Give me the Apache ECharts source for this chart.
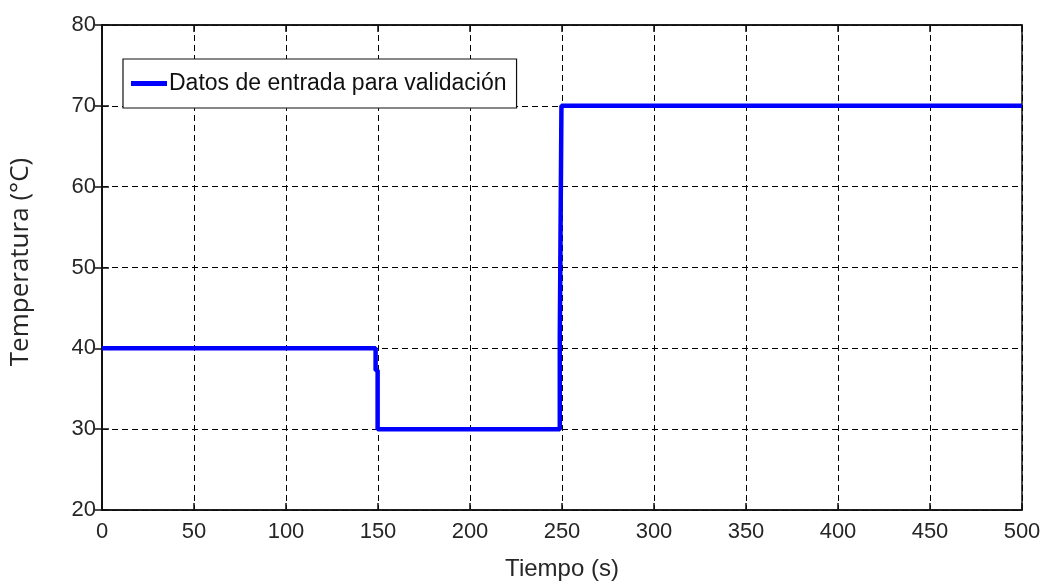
<!DOCTYPE html>
<html>
<head>
<meta charset="utf-8">
<script src="https://cdn.jsdelivr.net/npm/echarts@6/dist/echarts.min.js"></script>
<style>
html,body{margin:0;padding:0;background:#fff;}
#chart{width:1051px;height:586px;}
</style>
</head>
<body>
<div id="chart"></div>
<script>
// Data
var timeValues = [0, 148.7, 148.7, 149.8, 149.8, 248.8, 248.8, 249.7, 249.7, 500];
var tempValues = [40, 40, 37.3, 37.3, 30, 30, 41.5, 41.5, 70, 70];
var seriesName = 'Datos de entrada para validación';
var xTicks = [0, 50, 100, 150, 200, 250, 300, 350, 400, 450, 500];
var yTicks = [20, 30, 40, 50, 60, 70, 80];

var points = timeValues.map(function (t, i) { return [t, tempValues[i]]; });
var FONT = '"Liberation Sans Narrow", "Arial Narrow", "Liberation Sans", sans-serif';
var txtColor = '#262626';

var chart = echarts.init(document.getElementById('chart'), null, {renderer: 'canvas'});
var gridLine = {show: true, lineStyle: {color: '#000', type: [6, 4], width: 1}};
var option = {
  animation: false,
  backgroundColor: '#fff',
  grid: {left: 102, right: 29, top: 25, bottom: 74, show: true, borderColor: '#111', borderWidth: 1.5, backgroundColor: 'transparent'},
  legend: {
    show: true,
    left: 123, top: 59,
    orient: 'horizontal',
    icon: 'rect',
    itemWidth: 36, itemHeight: 5,
    padding: [10, 10, 10, 8],
    borderColor: '#111', borderWidth: 1.2,
    backgroundColor: '#fff',
    textStyle: {fontFamily: FONT, fontSize: 23, color: '#111', lineHeight: 29, padding: [0, 0, 0, -3]},
    data: [seriesName]
  },
  xAxis: [{
    type: 'value', min: xTicks[0], max: xTicks[xTicks.length - 1], interval: 50,
    axisLine: {show: true, onZero: false, lineStyle: {color: '#111', width: 1.5}},
    axisTick: {show: true, inside: true, length: 7, lineStyle: {color: '#111', width: 1.5}},
    axisLabel: {fontFamily: FONT, fontSize: 22, color: txtColor, margin: 11},
    splitLine: gridLine,
    name: 'Tiempo (s)', nameLocation: 'middle', nameGap: 47,
    nameTextStyle: {fontFamily: FONT, fontSize: 24, color: txtColor}
  }, {
    type: 'value', position: 'top', min: 0, max: 500, interval: 50,
    axisLine: {show: true, lineStyle: {color: '#111', width: 1.5}},
    axisTick: {show: true, inside: true, length: 7, lineStyle: {color: '#111', width: 1.5}},
    axisLabel: {show: false}, splitLine: {show: false}
  }],
  yAxis: [{
    type: 'value', min: yTicks[0], max: yTicks[yTicks.length - 1], interval: 10,
    axisLine: {show: true, onZero: false, lineStyle: {color: '#111', width: 1.5}},
    axisTick: {show: true, inside: true, length: 7, lineStyle: {color: '#111', width: 1.5}},
    axisLabel: {fontFamily: FONT, fontSize: 22, color: txtColor, margin: 6},
    splitLine: gridLine
  }, {
    type: 'value', position: 'right', min: 20, max: 80, interval: 10,
    axisLine: {show: true, lineStyle: {color: '#111', width: 1.5}},
    axisTick: {show: true, inside: true, length: 7, lineStyle: {color: '#111', width: 1.5}},
    axisLabel: {show: false}, splitLine: {show: false}
  }],
  graphic: [{
    type: 'text', x: 21, y: 262, rotation: Math.PI / 2,
    style: {text: 'Temperatura (°C)', fontFamily: '"Open Sans", sans-serif', fontSize: 26, fill: '#262626', align: 'center', verticalAlign: 'middle'}
  }],
  series: [{
    name: seriesName, type: 'line', xAxisIndex: 0, yAxisIndex: 0,
    data: points, showSymbol: false, symbol: 'none',
    color: '#0000ff',
    lineStyle: {color: '#0000ff', width: 4.5},
    itemStyle: {color: '#0000ff'}
  }]
};
chart.setOption(option);
</script>
</body>
</html>
